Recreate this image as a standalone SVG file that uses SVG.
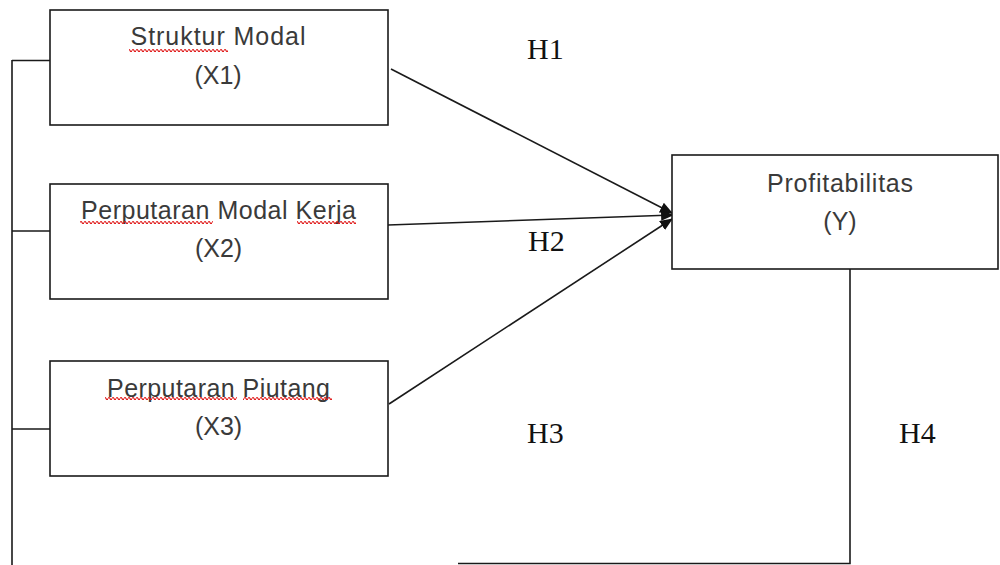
<svg xmlns="http://www.w3.org/2000/svg" width="1000" height="565" viewBox="0 0 1000 565">
<style>
.box{fill:#fff;stroke:#1a1a1a;stroke-width:1.6}
.lbl{font-family:"Liberation Sans",Arial,sans-serif;font-size:25px;fill:#3a3a3a;text-anchor:middle}
.h{font-family:"Liberation Serif","Times New Roman",serif;font-size:30px;fill:#111}
.ln{fill:none;stroke:#1a1a1a;stroke-width:1.6}
.arr{fill:none;stroke:#1a1a1a;stroke-width:1.6;marker-end:url(#ah)}
</style>
<defs>
<marker id="ah" viewBox="0 0 12 10" refX="11" refY="5" markerWidth="13" markerHeight="11" markerUnits="userSpaceOnUse" orient="auto">
<path d="M0 0 L12 5 L0 10 Z" fill="#111"/>
</marker>
<pattern id="squig" patternUnits="userSpaceOnUse" width="4" height="4">
<path d="M0 2.6 Q1 0.4 2 2.6 T4 2.6" fill="none" stroke="#e01818" stroke-width="1.1"/>
</pattern>
</defs>
<g id="connectors">
<path class="ln" d="M12 60 V565 M12 60.5 H50 M12 231 H50 M12 429 H50"/>
<path class="ln" d="M850 269 V563.5 H458"/>
<line class="arr" x1="391" y1="69" x2="672" y2="213"/>
<line class="arr" x1="388" y1="225" x2="673" y2="215"/>
<line class="arr" x1="389" y1="404" x2="672" y2="219"/>
</g>
<g id="x1">
<rect class="box" x="50" y="10" width="338" height="115"/>
<text class="lbl" x="218" y="45" textLength="175" lengthAdjust="spacing">Struktur Modal</text>
<text class="lbl" x="218" y="84">(X1)</text>
<rect x="129" y="48" width="99" height="4" fill="url(#squig)"/>
</g>
<g id="x2">
<rect class="box" x="50" y="184" width="338" height="115"/>
<text class="lbl" x="218.5" y="219" textLength="275" lengthAdjust="spacing">Perputaran Modal Kerja</text>
<text class="lbl" x="218.5" y="257">(X2)</text>
<rect x="80" y="220" width="133" height="4" fill="url(#squig)"/>
<rect x="297" y="220" width="59" height="4" fill="url(#squig)"/>
</g>
<g id="x3">
<rect class="box" x="50" y="361" width="338" height="115"/>
<text class="lbl" x="218.5" y="397" textLength="223" lengthAdjust="spacing">Perputaran Piutang</text>
<text class="lbl" x="218.5" y="435">(X3)</text>
<rect x="105" y="396" width="132" height="4" fill="url(#squig)"/>
<rect x="243" y="396" width="89" height="4" fill="url(#squig)"/>
</g>
<g id="y">
<rect class="box" x="672" y="155" width="326" height="114"/>
<text class="lbl" x="840" y="192" textLength="146" lengthAdjust="spacing">Profitabilitas</text>
<text class="lbl" x="840" y="230">(Y)</text>
</g>
<g id="hypotheses">
<text class="h" x="527" y="59">H1</text>
<text class="h" x="528" y="251">H2</text>
<text class="h" x="527" y="443">H3</text>
<text class="h" x="899" y="443">H4</text>
</g>
</svg>
